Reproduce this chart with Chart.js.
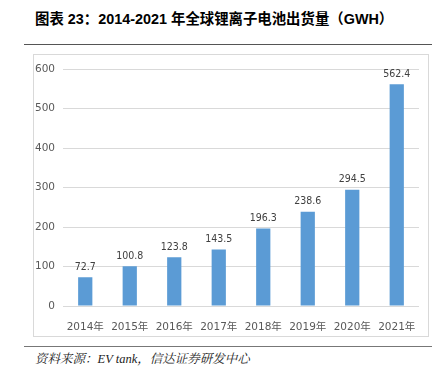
<!DOCTYPE html>
<html><head><meta charset="utf-8">
<script src="https://cdn.jsdelivr.net/npm/chart.js@4/dist/chart.umd.min.js"></script>
<style>
html,body{margin:0;padding:0;background:#fff;width:432px;height:370px;overflow:hidden;}
#title{position:absolute;left:35px;top:7px;font-family:"Liberation Sans","Noto Sans CJK SC",sans-serif;font-weight:bold;font-size:14.4px;color:#000;white-space:nowrap;}
#line1{position:absolute;left:24px;top:44px;width:408px;height:0;border-top:1.5px solid #555;}
#box{position:absolute;left:33px;top:54px;width:394px;height:281px;border:1px solid #d9d9d9;}
#line2{position:absolute;left:24px;top:346px;width:408px;height:0;border-top:1.5px solid #777;}
#src{position:absolute;left:35px;top:349px;font-family:"Liberation Serif","Noto Serif CJK SC","Noto Sans CJK SC",serif;font-style:italic;font-size:12.5px;color:#222;white-space:nowrap;}
canvas{display:block;}
</style></head><body>
<div id="title">图表 23：2014-2021 年全球锂离子电池出货量（GWH）</div>
<div id="line1"></div>
<div id="box"><canvas id="c" width="394" height="281"></canvas></div>
<div id="line2"></div>
<div id="src">资料来源：EV tank，信达证券研发中心</div>
<script>
const categories = ["2014年","2015年","2016年","2017年","2018年","2019年","2020年","2021年"];
const shipments = [72.7,100.8,123.8,143.5,196.3,238.6,294.5,562.4];
const yTicks = [0,100,200,300,400,500,600];

const FONT = '"DejaVu Sans","Noto Sans CJK SC",sans-serif';
const STRETCH = 'condensed';

const labelPlugin = {
  id:'labels',
  afterDatasetsDraw(chart){
    const ctx = chart.ctx;
    const meta = chart.getDatasetMeta(0);
    ctx.save();
    ctx.font = STRETCH + ' 10.5px ' + FONT;
    ctx.fillStyle = '#404040';
    ctx.textAlign = 'center';
    ctx.textBaseline = 'bottom';
    meta.data.forEach((bar,i)=>{
      ctx.fillText(shipments[i].toFixed(1), bar.x, bar.y - 5);
    });
    ctx.restore();
  }
};

new Chart(document.getElementById('c'), {
  type:'bar',
  data:{labels:categories, datasets:[{data:shipments, backgroundColor:'#5b9bd5', borderWidth:0, barPercentage:0.32, categoryPercentage:1}]},
  options:{
    responsive:false, animation:false,
    devicePixelRatio:1,
    layout:{padding:{top:14,right:9,bottom:0,left:0}},
    plugins:{legend:{display:false},tooltip:{enabled:false}},
    scales:{
      x:{
        grid:{display:false},
        border:{display:false},
        ticks:{color:'#595959',font:{family:FONT,size:10.5,style:STRETCH},padding:7,maxRotation:0},
        afterFit(s){s.height=30;}
      },
      y:{
        min:0,max:600,
        afterBuildTicks(s){s.ticks = yTicks.map(v=>({value:v}));},
        grid:{color:'#d9d9d9',lineWidth:1,drawTicks:false},
        border:{display:false},
        ticks:{color:'#595959',font:{family:FONT,size:10.5,style:STRETCH},padding:8},
        afterFit(s){s.width=29;}
      }
    }
  },
  plugins:[labelPlugin]
});
</script>
</body></html>
